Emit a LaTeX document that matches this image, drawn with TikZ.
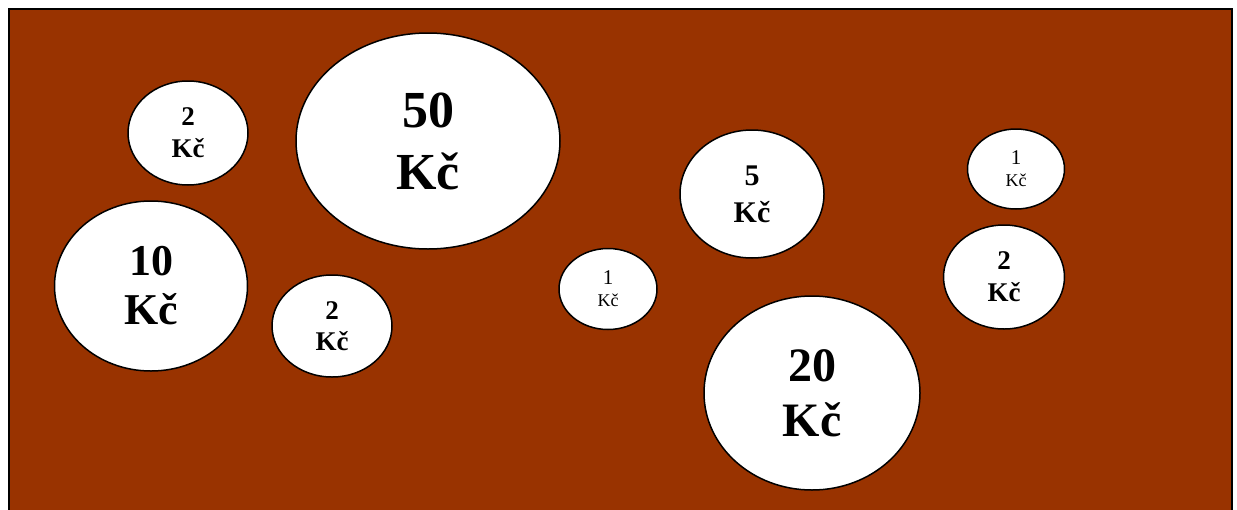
\documentclass[tikz,border=0pt]{standalone}
\usepackage{fontspec}
\setmainfont{Liberation Serif}
\usepackage{tikz}
\usetikzlibrary{shapes.geometric}
\definecolor{brick}{HTML}{993300}

\begin{document}
\begin{tikzpicture}[x=1pt, y=-1pt,
    coin/.style={ellipse, draw=black, fill=white, line width=1.5pt, inner sep=0pt, align=center}]
    \useasboundingbox (0,0) rectangle (1237,509);
    \clip (0,0) rectangle (1237,509);
    % background
    \draw[fill=brick, line width=1.5pt] (9,9) rectangle (1232,530);
    % big coins
    \node[coin, minimum width=264pt, minimum height=216pt, font=\bfseries\fontsize{52}{62}\selectfont] (fifty) at (428,141) {50\\Kč};
    \node[coin, minimum width=193pt, minimum height=170pt, font=\bfseries\fontsize{44}{49}\selectfont] (ten) at (151,286) {10\\Kč};
    \node[coin, minimum width=216pt, minimum height=194pt, font=\bfseries\fontsize{48}{55}\selectfont] (twenty) at (812,393) {20\\Kč};
    % middle coins
    \node[coin, minimum width=144pt, minimum height=128pt, font=\bfseries\fontsize{30}{37}\selectfont] (five) at (752,194) {5\\Kč};
    \node[coin, minimum width=120pt, minimum height=104pt, font=\bfseries\fontsize{27}{32}\selectfont] (twoA) at (188,133) {2\\Kč};
    \node[coin, minimum width=120pt, minimum height=102pt, font=\bfseries\fontsize{27}{31}\selectfont] (twoB) at (332,326) {2\\Kč};
    \node[coin, minimum width=121pt, minimum height=104pt, font=\bfseries\fontsize{27}{32}\selectfont] (twoC) at (1004,277) {2\\Kč};
    % small coins
    \node[coin, minimum width=98pt, minimum height=81pt, font=\fontsize{21}{22}\selectfont] (oneA) at (608,289) {1\\{\fontsize{18}{18}\selectfont Kč}};
    \node[coin, minimum width=97pt, minimum height=80pt, font=\fontsize{21}{22}\selectfont] (oneB) at (1016,169) {1\\{\fontsize{18}{18}\selectfont Kč}};
\end{tikzpicture}
\end{document}
